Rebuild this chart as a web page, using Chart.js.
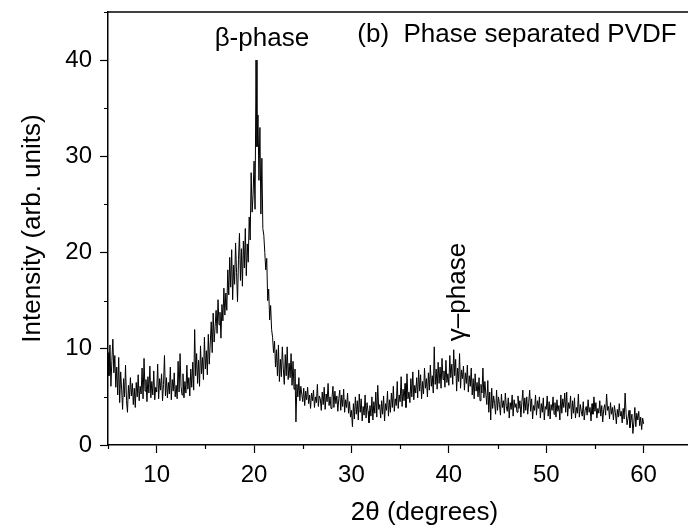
<!DOCTYPE html>
<html><head><meta charset="utf-8">
<script src="https://cdn.jsdelivr.net/npm/chart.js@4/dist/chart.umd.min.js"></script>
<style>
html,body{margin:0;padding:0;overflow:hidden;background:#fff;width:688px;height:529px}
#wrap{width:741px;height:529px}
</style></head>
<body><div id="wrap"><canvas id="c" width="741" height="529"></canvas></div>
<script>
// 2θ scan grid: 5.0° to 60.0° in 0.1° steps
const scanStart = 5;
const scanStep = 0.1;

// Intensity (arb. units), one row per degree (x.0 ... x.9)
const intensity = [
  9.6, 7.2, 10.4, 6.1, 8.8, 11.0, 7.5, 9.3, 6.0, 8.1,
  5.2, 9.1, 4.4, 7.6, 5.8, 3.7, 6.9, 5.0, 8.3, 4.6,
  3.4, 6.2, 4.8, 7.0, 5.1, 6.4, 4.2, 5.9, 3.9, 6.5,
  5.0, 7.3, 4.6, 6.1, 5.3, 8.0, 4.8, 9.0, 5.6, 6.8,
  4.5, 7.1, 5.4, 8.2, 4.9, 6.6, 5.2, 7.7, 4.7, 6.0,
  5.5, 8.4, 4.8, 6.9, 5.7, 7.4, 4.6, 6.3, 9.3, 5.1,
  7.0, 4.9, 6.5, 5.3, 8.1, 4.7, 6.8, 5.6, 7.5, 5.0,
  6.2, 4.8, 8.7, 5.5, 9.5, 6.1, 5.2, 7.4, 4.9, 6.6,
  5.4, 8.3, 5.8, 7.0, 5.1, 7.9, 6.0, 8.6, 5.7, 12.0,
  7.2, 9.5, 6.4, 8.8, 6.1, 10.3, 7.4, 9.1, 6.8, 11.2,
  7.9, 9.8, 7.3, 11.5, 8.4, 10.6, 12.8, 9.6, 13.7, 10.7,
  12.3, 14.0, 11.6, 15.1, 12.5, 13.8, 11.1, 14.6, 12.9, 16.3,
  13.5, 15.8, 14.0, 18.2, 15.6, 19.5, 16.4, 20.3, 15.1, 18.7,
  16.7, 21.0, 17.9, 14.9, 19.3, 22.0, 17.1, 20.4, 16.5, 21.2,
  18.4, 22.5, 17.6, 20.9, 19.0, 23.7, 21.3, 28.3, 24.2, 26.0,
  29.5, 24.5, 40.0, 31.0, 34.3, 27.5, 33.0, 24.0, 29.8, 22.5,
  21.8, 20.0, 18.2, 19.4, 15.0, 16.2, 13.0, 14.5, 12.0, 11.2,
  9.6, 10.8, 8.1, 9.9, 7.2, 10.4, 6.6, 8.9, 7.1, 10.2,
  8.0, 6.3, 9.4, 7.2, 10.2, 6.8, 8.5, 7.0, 9.5, 6.2,
  8.7, 5.8, 7.9, 2.4, 6.3, 5.0, 7.0, 4.6, 6.1, 5.3,
  4.5, 5.9, 4.1, 5.6, 4.7, 6.0, 4.3, 5.2, 3.8, 5.4,
  4.6, 5.7, 3.9, 5.0, 4.4, 6.3, 4.0, 5.1, 4.8, 3.6,
  5.5, 4.2, 6.0, 3.7, 5.3, 4.5, 6.4, 4.1, 5.0, 3.8,
  4.9, 6.1, 3.9, 5.6, 4.3, 5.1, 3.5, 4.8, 5.7, 3.6,
  5.2, 4.0, 5.8, 3.4, 4.7, 3.9, 5.4, 3.3, 4.5, 2.9,
  3.6, 1.9, 4.3, 2.7, 5.0, 3.2, 4.6, 2.6, 5.3, 3.4,
  4.8, 2.5, 4.0, 3.1, 5.2, 2.8, 4.4, 3.5, 2.3, 4.1,
  3.0, 5.0, 2.6, 4.5, 3.3, 5.5, 2.9, 6.2, 3.7, 4.2,
  2.8, 4.6, 3.2, 5.1, 2.5, 4.3, 3.6, 5.6, 3.0, 4.7,
  3.4, 5.4, 3.9, 6.1, 3.5, 4.8, 4.1, 6.6, 3.8, 5.2,
  4.5, 7.1, 4.0, 5.8, 4.6, 6.4, 3.9, 7.4, 4.8, 5.5,
  4.4, 6.9, 5.0, 7.6, 4.7, 6.2, 5.4, 7.0, 4.9, 7.8,
  5.6, 7.3, 4.8, 6.6, 5.3, 8.0, 5.9, 6.9, 5.0, 7.5,
  5.7, 8.3, 6.1, 7.2, 5.4, 10.2, 6.3, 7.9, 5.8, 8.6,
  6.4, 8.1, 5.9, 9.0, 6.8, 7.7, 6.0, 8.8, 6.5, 7.4,
  6.2, 9.3, 7.0, 8.4, 6.3, 9.9, 7.2, 8.9, 5.6, 8.0,
  6.6, 9.5, 5.9, 7.8, 6.9, 8.2, 5.7, 7.5, 6.4, 8.3,
  5.5, 7.2, 6.1, 8.0, 5.2, 6.9, 4.8, 7.4, 5.6, 6.5,
  5.0, 7.0, 4.6, 6.3, 5.4, 8.0, 4.9, 6.6, 5.3, 4.2,
  6.7, 3.4, 5.5, 2.6, 5.9, 3.8, 5.1, 4.3, 3.2, 5.7,
  3.6, 5.0, 4.2, 3.1, 5.3, 3.9, 4.6, 3.3, 5.4, 4.0,
  3.5, 4.9, 2.8, 4.4, 3.7, 5.2, 3.0, 4.7, 3.9, 4.3,
  3.4, 5.1, 3.8, 4.6, 2.9, 4.5, 5.7, 3.3, 4.9, 3.6,
  5.0, 3.2, 4.4, 5.7, 3.5, 4.8, 2.7, 4.1, 3.6, 5.2,
  3.1, 4.6, 3.8, 5.0, 2.8, 4.3, 3.4, 4.9, 2.6, 4.0,
  3.7, 5.1, 3.0, 4.5, 2.7, 4.2, 3.6, 5.0, 3.2, 4.4,
  2.9, 4.7, 3.5, 4.1, 2.6, 5.2, 3.3, 4.8, 3.9, 5.4,
  3.4, 5.5, 3.0, 4.4, 3.8, 5.1, 2.7, 4.6, 3.3, 4.9,
  2.8, 3.9, 3.3, 5.3, 2.9, 4.2, 3.5, 3.0, 4.5, 2.6,
  3.6, 4.0, 3.1, 4.7, 3.4, 3.9, 2.5, 4.3, 3.2, 5.0,
  3.5, 4.4, 2.8, 3.8, 3.3, 4.6, 3.0, 4.1, 2.4, 3.7,
  4.2, 3.1, 5.3, 3.6, 4.0, 2.7, 4.4, 3.2, 3.9, 2.6,
  4.1, 3.4, 2.2, 3.7, 2.9, 4.3, 3.0, 3.5, 2.3, 3.8,
  2.7, 5.4, 3.3, 2.1, 2.8, 3.6, 1.8, 2.5, 3.2, 1.2,
  2.4, 3.9, 1.9, 3.3, 2.6, 3.5, 2.0, 2.9, 1.6, 2.8,
  2.2
];

// Axis ticks
const xTickValues = [10, 20, 30, 40, 50, 60];
const yTickValues = [0, 10, 20, 30, 40];
const xMinorTicks = [5, 15, 25, 35, 45, 55, 65];
const yMinorTicks = [5, 15, 25, 35, 45];

// Labels
const xTitle = '2\u03B8 (degrees)';
const yTitle = 'Intensity (arb. units)';
const betaLabel = '\u03B2-phase';
const gammaLabel = '\u03B3\u2013phase';
const panelLabel = '(b)  Phase separated PVDF';

const twoTheta = intensity.map((_, i) => +(scanStart + i * scanStep).toFixed(1));
const points = twoTheta.map((x, i) => ({ x: x, y: intensity[i] }));

const FONT = '"Liberation Sans", Arial, Helvetica, sans-serif';

function noPad(s) { s.paddingTop = 0; s.paddingBottom = 0; s.paddingLeft = 0; s.paddingRight = 0; }

const framePlugin = {
  id: 'frame',
  afterDraw(chart) {
    const ctx = chart.ctx, a = chart.chartArea;
    const xs = chart.scales.x, ys = chart.scales.y;
    ctx.save();
    ctx.strokeStyle = '#000';
    ctx.lineWidth = 1.5;
    ctx.beginPath();
    ctx.moveTo(a.left - 1, a.top);
    ctx.lineTo(a.right, a.top);
    ctx.stroke();
    ctx.lineWidth = 1.2;
    ctx.beginPath();
    xMinorTicks.forEach(v => {
      const px = Math.round(xs.getPixelForValue(v)) + 0.5;
      ctx.moveTo(px, a.bottom);
      ctx.lineTo(px, a.bottom + 4);
    });
    yMinorTicks.forEach(v => {
      const py = Math.round(ys.getPixelForValue(v)) + 0.5;
      ctx.moveTo(a.left, py);
      ctx.lineTo(a.left - 4, py);
    });
    ctx.stroke();

    // annotations
    ctx.fillStyle = '#000';
    ctx.textBaseline = 'middle';
    ctx.font = '26px ' + FONT;
    ctx.textAlign = 'center';
    ctx.fillText(betaLabel, xs.getPixelForValue(20.8), ys.getPixelForValue(42.2));
    ctx.textAlign = 'left';
    ctx.fillText(panelLabel, xs.getPixelForValue(30.6), ys.getPixelForValue(42.6));
    ctx.save();
    ctx.translate(xs.getPixelForValue(40.95), ys.getPixelForValue(15.9));
    ctx.rotate(-Math.PI / 2);
    ctx.textAlign = 'center';
    ctx.fillText(gammaLabel, 0, 0);
    ctx.restore();
    ctx.restore();
  }
};

new Chart(document.getElementById('c'), {
  type: 'line',
  data: {
    datasets: [{
      data: points,
      borderColor: '#000',
      borderWidth: 1,
      pointRadius: 0,
      tension: 0,
      fill: false
    }]
  },
  options: {
    responsive: false,
    animation: false,
    devicePixelRatio: 1,
    layout: { padding: { top: 12, left: 0, right: 0, bottom: 0 } },
    plugins: { legend: { display: false }, tooltip: { enabled: false } },
    scales: {
      x: {
        type: 'linear',
        min: 5, max: 70,
        afterBuildTicks: s => { s.ticks = xTickValues.map(v => ({ value: v })); },
        afterFit: s => { s.height = 84; noPad(s); },
        grid: { drawOnChartArea: false, drawTicks: true, tickLength: 8, tickWidth: 1.2, tickColor: '#000' },
        border: { display: true, color: '#000', width: 1.5 },
        ticks: { color: '#000', font: { family: FONT, size: 24 }, padding: 8, maxRotation: 0 },
        title: { display: true, text: xTitle, color: '#000', font: { family: FONT, size: 26 }, padding: { top: 0, bottom: 1 } }
      },
      y: {
        type: 'linear',
        min: 0, max: 45,
        afterBuildTicks: s => { s.ticks = yTickValues.map(v => ({ value: v })); },
        afterFit: s => { s.width = 108; noPad(s); },
        grid: { drawOnChartArea: false, drawTicks: true, tickLength: 8, tickWidth: 1.2, tickColor: '#000' },
        border: { display: true, color: '#000', width: 1.5 },
        ticks: { color: '#000', font: { family: FONT, size: 24 }, padding: 8 },
        title: { display: true, text: yTitle, color: '#000', font: { family: FONT, size: 26 }, padding: { top: 17, bottom: 0 } }
      }
    }
  },
  plugins: [framePlugin]
});
</script>
</body></html>
